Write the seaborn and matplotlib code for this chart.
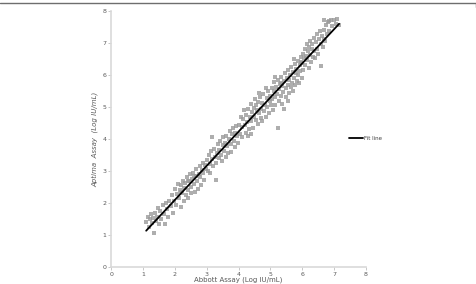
# Aptima vs Abbott assay - scatter with fit line
import numpy as np
import pandas as pd
import matplotlib.pyplot as plt
import seaborn as sns
from matplotlib.lines import Line2D

# Values (Log IU/mL).
abbott = [
    1.10, 1.15, 1.18, 1.22, 1.25, 1.28, 1.30, 1.35, 1.38, 1.40, 1.45, 1.48, 1.50, 1.55, 1.58, 1.62, 1.65,
    1.70, 1.72, 1.75, 1.80, 1.82, 1.88, 1.92, 1.95, 1.98,
    2.02, 2.05, 2.08, 2.10, 2.12, 2.15, 2.18, 2.20, 2.22, 2.25, 2.28, 2.30, 2.32, 2.35, 2.38, 2.40, 2.42,
    2.45, 2.48, 2.50, 2.52, 2.55, 2.58, 2.60, 2.62, 2.65, 2.68, 2.70, 2.72, 2.75, 2.78, 2.80, 2.82, 2.85,
    2.88, 2.90, 2.92, 2.95, 2.98, 2.60, 2.40, 2.20,
    3.02, 3.05, 3.08, 3.10, 3.12, 3.15, 3.17, 3.18, 3.20, 3.22, 3.25, 3.28, 3.30, 3.32, 3.35, 3.38, 3.40,
    3.42, 3.45, 3.48, 3.50, 3.52, 3.55, 3.58, 3.60, 3.62, 3.65, 3.68, 3.70, 3.72, 3.75, 3.78, 3.80, 3.82,
    3.85, 3.88, 3.90, 3.92, 3.95, 3.98,
    4.02, 4.05, 4.08, 4.10, 4.12, 4.15, 4.18, 4.20, 4.22, 4.25, 4.28, 4.30, 4.32, 4.35, 4.38, 4.40, 4.42,
    4.45, 4.48, 4.50, 4.52, 4.55, 4.58, 4.60, 4.62, 4.65, 4.68, 4.70, 4.72, 4.75, 4.78, 4.80, 4.82, 4.85,
    4.88, 4.90, 4.92, 4.95, 4.98, 4.30, 4.55, 4.75, 4.40, 4.85, 4.65,
    5.00, 5.02, 5.04, 5.06, 5.08, 5.10, 5.12, 5.14, 5.16, 5.18, 5.20, 5.23, 5.24, 5.26, 5.28, 5.30, 5.32,
    5.34, 5.36, 5.38, 5.40, 5.42, 5.44, 5.46, 5.48, 5.50, 5.52, 5.54, 5.56, 5.58, 5.60, 5.62, 5.64, 5.66,
    5.68, 5.70, 5.72, 5.74, 5.76, 5.78, 5.80, 5.82, 5.84, 5.86, 5.88, 5.90, 5.92, 5.94, 5.96, 5.98, 5.15,
    5.35, 5.55, 5.75, 5.95,
    6.00, 6.02, 6.04, 6.06, 6.08, 6.10, 6.12, 6.14, 6.16, 6.18, 6.20, 6.22, 6.24, 6.26, 6.28, 6.30, 6.32,
    6.34, 6.36, 6.38, 6.40, 6.42, 6.45, 6.48, 6.50, 6.52, 6.55, 6.58, 6.60, 6.62, 6.65, 6.68, 6.70, 6.74,
    6.78, 6.82, 6.85, 6.90, 6.95, 7.00, 7.05, 7.10, 6.72, 6.70, 6.84, 7.16,
]
aptima = [
    1.40, 1.57, 1.25, 1.50, 1.65, 1.37, 1.53, 1.05, 1.70, 1.43, 1.57, 1.85, 1.33, 1.75, 1.50, 1.93, 1.65,
    1.35, 2.00, 1.80, 1.57, 2.07, 1.90, 2.25, 1.70, 2.05,
    2.45, 1.95, 2.28, 2.60, 2.15, 2.40, 1.88, 2.55, 2.30, 2.70, 2.05, 2.48, 2.62, 2.25, 2.80, 2.42, 2.15,
    2.68, 2.90, 2.50, 2.30, 2.75, 2.95, 2.58, 2.35, 2.85, 3.05, 2.70, 2.45, 2.92, 3.15, 2.80, 2.55, 3.02,
    3.25, 2.95, 2.72, 3.20, 3.05, 2.85, 2.70, 2.35,
    3.35, 3.00, 3.50, 3.22, 2.95, 3.62, 4.06, 3.38, 3.15, 3.70, 3.45, 3.25, 2.72, 3.55, 3.85, 3.40, 3.65,
    3.95, 3.50, 3.30, 3.80, 4.05, 3.62, 3.88, 3.45, 4.10, 3.78, 3.55, 4.00, 4.25, 3.85, 3.60, 4.15, 4.35,
    3.95, 4.20, 3.75, 4.40, 4.10, 3.88,
    4.45, 4.15, 4.70, 4.38, 4.05, 4.62, 4.90, 4.45, 4.20, 4.75, 4.52, 4.95, 4.30, 4.68, 5.10, 4.55, 4.85,
    4.35, 4.98, 4.70, 5.25, 4.60, 4.92, 5.15, 4.48, 4.80, 5.30, 4.95, 4.65, 5.12, 5.40, 4.88, 5.05, 4.70,
    5.28, 5.00, 5.50, 4.82, 5.20, 4.10, 5.05, 4.55, 4.15, 5.60, 5.45,
    5.35, 5.05, 5.60, 5.25, 4.90, 5.50, 5.78, 5.30, 5.05, 5.62, 5.40, 4.35, 5.85, 5.20, 5.55, 5.72, 5.35,
    5.95, 5.10, 5.65, 5.48, 4.94, 5.80, 6.05, 5.58, 5.30, 5.90, 5.70, 6.15, 5.45, 5.85, 6.00, 5.62, 6.25,
    5.75, 5.50, 6.10, 5.92, 6.35, 5.70, 6.05, 6.20, 5.82, 6.45, 6.00, 5.75, 6.30, 6.12, 6.55, 5.90, 5.95,
    5.75, 5.20, 6.50, 6.40,
    6.37, 6.67, 6.17, 6.52, 6.82, 6.32, 6.60, 6.97, 6.47, 6.74, 6.22, 6.87, 6.62, 7.07, 6.42, 6.80, 6.97,
    6.57, 7.17, 6.74, 6.52, 7.02, 7.27, 6.82, 6.67, 7.12, 7.37, 6.28, 6.97, 7.22, 6.87, 7.42, 7.12, 7.57,
    7.27, 7.67, 7.37, 7.72, 7.52, 7.72, 7.60, 7.75, 7.07, 7.72, 7.70, 7.58,
]
ticks = [0, 1, 2, 3, 4, 5, 6, 7, 8]

df = pd.DataFrame({"Abbott": abbott, "Aptima": aptima})

sns.set_theme(style="white")
fig = plt.figure(figsize=(4.77, 2.84), dpi=100)
ax = fig.add_axes([0.233, 0.060, 0.534, 0.901])

sns.regplot(data=df, x="Abbott", y="Aptima", ax=ax, ci=None, marker="s",
            scatter_kws={"s": 5, "color": "#9a9a9a", "linewidths": 0},
            line_kws={"color": "black", "lw": 1.3, "label": "Fit line"})

ax.set_xlim(0, 8)
ax.set_ylim(0, 8)
ax.set_xticks(ticks)
ax.set_yticks(ticks)
ax.tick_params(labelsize=4.5, labelcolor="#595959", color="#bfbfbf",
               length=2, width=0.6, pad=1.5, direction="out", bottom=True, left=True)
sns.despine(ax=ax)
for side in ["left", "bottom"]:
    ax.spines[side].set_color("#d9d9d9")
    ax.spines[side].set_linewidth(1.2)

ax.set_xlabel("Abbott Assay (Log IU/mL)", fontsize=5, color="#595959", labelpad=0)
ax.set_ylabel("Aptima  Assay  (Log IU/mL)", fontsize=5, color="#595959",
              style="italic", labelpad=3)

fig.legend(handles=[Line2D([], [], color="black", lw=1.3)], labels=["Fit line"],
           loc="center left", bbox_to_anchor=(0.722, 0.514), frameon=False,
           fontsize=4, handlelength=2.4, handletextpad=0.2, labelcolor="#404040")

# thin frame line along the top of the picture
fig.add_artist(Line2D([0, 0.997], [0.991, 0.991], color="#6e6e6e", lw=1.0))
fig.add_artist(Line2D([0.997, 0.997], [0.991, 0.975], color="#6e6e6e", lw=1.0))

fig.savefig("out.png", dpi=100)
